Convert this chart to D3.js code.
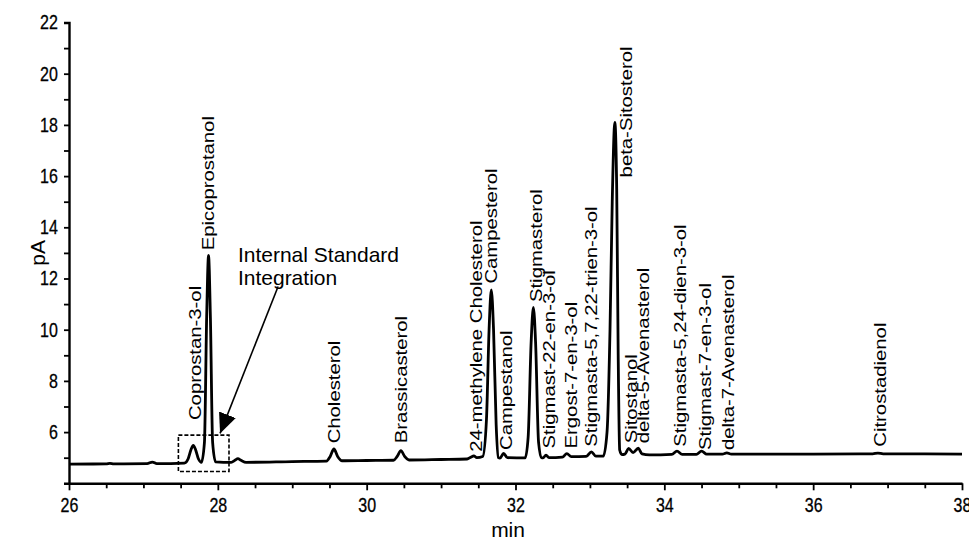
<!DOCTYPE html>
<html>
<head>
<meta charset="utf-8">
<script src="https://cdn.jsdelivr.net/npm/d3@7"></script>
<style>
  body { margin: 0; background: #fff; }
  text { font-family: "Liberation Sans", Arial, sans-serif; fill: #000; }
</style>
</head>
<body>
<div class="chroma"></div>
<script>
(function(){
// chromatogram trace (retention time in min, signal in pA)
var traceMin = [26.00, 26.50, 26.55, 26.60, 27.05, 27.12, 27.18, 27.55, 27.60, 27.64, 27.67, 27.70, 27.74, 27.78,
  27.82, 27.85, 27.875, 27.90, 27.93, 27.97, 28.18, 28.23, 28.27, 28.31, 28.38, 29.00,
  29.46, 29.51, 29.56, 29.61, 29.67, 30.00, 30.36, 30.41, 30.46, 30.51, 30.57, 31.00,
  31.35, 31.40, 31.44, 31.48, 31.56, 31.61, 31.645, 31.675, 31.705, 31.74, 31.77, 31.79, 31.84, 31.89,
  32.13, 32.17, 32.21, 32.24, 32.27, 32.31, 32.35, 32.37, 32.41, 32.45, 32.63, 32.69, 32.75,
  32.95, 33.02, 33.08, 33.18, 33.23, 33.27, 33.30, 33.335, 33.36, 33.38, 33.40, 33.43, 33.47,
  33.52, 33.58, 33.65, 33.70, 33.80, 34.10, 34.17, 34.24, 34.43, 34.50, 34.57, 34.78, 34.84, 34.90,
  35.50, 36.00, 36.80, 36.87, 36.94, 37.50, 38.00];
var tracePA = [4.75, 4.76, 4.78, 4.76, 4.77, 4.83, 4.77, 4.79, 4.95, 5.32, 5.48, 5.32, 4.95, 4.82,
  5.60, 10.5, 12.9, 10.5, 5.60, 4.84, 4.82, 4.90, 4.96, 4.90, 4.82, 4.85,
  4.87, 5.05, 5.34, 5.05, 4.88, 4.89, 4.90, 5.05, 5.28, 5.05, 4.91, 4.93,
  4.95, 5.02, 5.07, 5.00, 5.05, 6.50, 10.0, 11.55, 10.0, 6.30, 5.00, 4.98, 5.17, 5.00,
  4.99, 5.80, 9.50, 10.87, 9.50, 5.60, 5.00, 4.99, 5.10, 5.00, 5.02, 5.16, 5.04,
  5.05, 5.23, 5.06, 5.06, 6.00, 10.0, 15.0, 18.1, 15.5, 9.00, 5.30, 5.12, 5.14,
  5.36, 5.20, 5.37, 5.15, 5.11, 5.13, 5.26, 5.13, 5.13, 5.26, 5.14, 5.14, 5.19, 5.14,
  5.14, 5.14, 5.15, 5.18, 5.15, 5.15, 5.14];

// compound names, where each label stands (min) and where it starts (pA)
var compounds = ["Coprostan-3-ol", "Epicoprostanol", "Cholesterol", "Brassicasterol",
  "24-methylene Cholesterol", "Campesterol", "Campestanol", "Stigmasterol",
  "Stigmast-22-en-3-ol", "Ergost-7-en-3-ol", "Stigmasta-5,7,22-trien-3-ol", "beta-Sitosterol",
  "Sitostanol", "delta-5-Avenasterol", "Stigmasta-5,24-dien-3-ol", "Stigmast-7-en-3-ol",
  "delta-7-Avenasterol", "Citrostadienol"];
var labelMin = [27.70, 27.87, 29.56, 30.46, 31.48, 31.68, 31.88, 32.28, 32.46, 32.75, 33.02, 33.49,
  33.56, 33.72, 34.21, 34.55, 34.86, 36.90];
var labelPA = [6.47, 13.1, 5.56, 5.56, 5.23, 11.8, 5.30, 11.08, 5.36, 5.36, 5.43, 15.95,
  5.56, 5.56, 5.43, 5.30, 5.30, 5.43];

// axis ticks
var xTicks = d3.range(26, 38.01, 0.5);
var yTicks = d3.range(5, 22.01, 1);

// internal standard note: dashed box, arrow and text
var boxMin = [27.47, 28.15], boxPA = [4.46, 5.88];
var arrowMin = [28.81, 28.03], arrowPA = [11.69, 5.95];
var noteLines = ["Internal Standard", "Integration"];
var noteMin = 28.27, notePA = [12.65, 11.75];

var width = 969, height = 542;

var x = d3.scaleLinear().domain([26, 38]).range([69, 962]);
var y = d3.scaleLinear().domain([4, 22]).range([483.3, 22.5]);

var svg = d3.select(".chroma").append("svg")
    .attr("width", width)
    .attr("height", height);

// x axis
var gx = svg.append("g")
    .attr("transform", "translate(0," + y(4) + ")")
    .call(d3.axisBottom(x).tickValues(xTicks).tickSizeOuter(0).tickPadding(9)
      .tickFormat(function(d) { return d % 2 === 0 ? d : ""; }));
gx.select(".domain").attr("stroke-width", 2.4);
gx.selectAll(".tick line").attr("stroke-width", 1.8)
    .attr("y2", function(d) { return d % 2 === 0 ? 7 : 5; });
gx.selectAll(".tick text").attr("font-size", 20).attr("transform", "scale(0.8,1)")
    .style("font-family", "'Liberation Sans', Arial, sans-serif")
    .style("stroke", "#000").style("stroke-width", 0.3);

// y axis
var gy = svg.append("g")
    .attr("transform", "translate(" + x(26) + ",0)")
    .call(d3.axisLeft(y).tickValues(yTicks).tickSizeOuter(0).tickSize(5)
      .tickFormat(function(d) { return d % 2 === 0 ? d : ""; }));
gy.select(".domain").attr("stroke-width", 2.4);
gy.selectAll(".tick line").attr("stroke-width", 1.8);
gy.selectAll(".tick text").attr("font-size", 20).attr("x", -14).attr("transform", "scale(0.8,1)")
    .style("font-family", "'Liberation Sans', Arial, sans-serif")
    .style("stroke", "#000").style("stroke-width", 0.3);

// axis titles
svg.append("text")
    .attr("transform", "translate(45," + y(13) + ") rotate(-90)")
    .attr("text-anchor", "middle")
    .attr("font-size", 21)
    .text("pA");
svg.append("text")
    .attr("x", x(31.9))
    .attr("y", 537)
    .attr("text-anchor", "middle")
    .attr("font-size", 21)
    .text("min");

// trace
var trace = d3.zip(traceMin, tracePA);
var line = d3.line()
    .x(function(d) { return x(d[0]); })
    .y(function(d) { return y(d[1]); })
    .curve(d3.curveMonotoneX);
svg.append("path")
    .datum(trace)
    .attr("d", line)
    .style("stroke", "#000")
    .style("stroke-width", 2.8)
    .style("stroke-linejoin", "round")
    .style("fill", "none");

// peak labels, rotated
svg.append("g").selectAll("g")
    .data(compounds)
  .enter().append("g")
    .attr("transform", function(d, i) {
      return "translate(" + x(labelMin[i]) + "," + y(labelPA[i]) + ") rotate(-90) scale(1.27,1)";
    })
  .append("text")
    .attr("dy", "0.35em")
    .attr("font-size", 16)
    .text(function(d) { return d; });

// dashed box around internal standard
svg.append("rect")
    .attr("x", x(boxMin[0]))
    .attr("y", y(boxPA[1]))
    .attr("width", x(boxMin[1]) - x(boxMin[0]))
    .attr("height", y(boxPA[0]) - y(boxPA[1]))
    .style("fill", "none")
    .style("stroke", "#000")
    .style("stroke-width", 1.6)
    .style("stroke-dasharray", "4,2");

// arrow
svg.append("defs").append("marker")
    .attr("id", "head")
    .attr("viewBox", "0 0 10 10")
    .attr("refX", 10).attr("refY", 5)
    .attr("markerWidth", 20).attr("markerHeight", 20)
    .attr("markerUnits", "userSpaceOnUse")
    .attr("orient", "auto")
  .append("path")
    .attr("d", "M0,0.5L10,5L0,9.5Z")
    .style("fill", "#000");
svg.append("line")
    .attr("x1", x(arrowMin[0])).attr("y1", y(arrowPA[0]))
    .attr("x2", x(arrowMin[1])).attr("y2", y(arrowPA[1]))
    .style("stroke", "#000")
    .style("stroke-width", 1.6)
    .attr("marker-end", "url(#head)");

// note text
svg.append("g").selectAll("text")
    .data(noteLines)
  .enter().append("text")
    .attr("x", x(noteMin))
    .attr("y", function(d, i) { return y(notePA[i]); })
    .attr("font-size", 21)
    .text(function(d) { return d; });
})();
</script>
</body>
</html>
